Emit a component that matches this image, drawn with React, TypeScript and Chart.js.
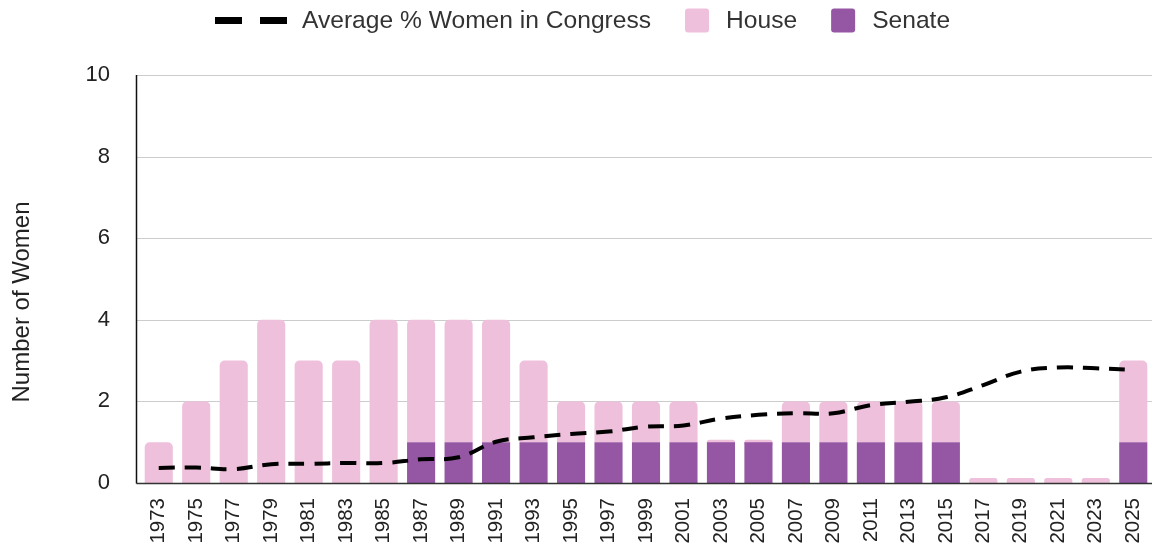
import React, { useEffect, useRef } from 'react';
import { Chart, registerables } from 'chart.js';

Chart.register(...registerables);

const years = ['1973', '1975', '1977', '1979', '1981', '1983', '1985', '1987', '1989', '1991', '1993', '1995', '1997', '1999', '2001', '2003', '2005', '2007', '2009', '2011', '2013', '2015', '2017', '2019', '2021', '2023', '2025'];
const senate = [0, 0, 0, 0, 0, 0, 0, 1, 1, 1, 1, 1, 1, 1, 1, 1, 1, 1, 1, 1, 1, 1, 0, 0, 0, 0, 1];
const house = [1, 2, 3, 4, 3, 3, 4, 3, 3, 3, 2, 1, 1, 1, 1, 0, 0, 1, 1, 1, 1, 1, 0, 0, 0, 0, 2];
const avgPctWomen = [0.37, 0.38, 0.34, 0.46, 0.47, 0.49, 0.49, 0.58, 0.63, 1.01, 1.12, 1.2, 1.26, 1.38, 1.41, 1.58, 1.67, 1.71, 1.71, 1.91, 1.99, 2.1, 2.4, 2.73, 2.83, 2.81, 2.77];
const yTickValues = [0, 2, 4, 6, 8, 10];

const legendLabels = ['Average % Women in Congress', 'House', 'Senate'];
const yAxisTitle = 'Number of Women';

const HOUSE_COLOR = '#EFC0DB';
const SENATE_COLOR = '#9556A4';
const FONT = '"Liberation Sans", Arial, sans-serif';

const framePlugin = {
  id: 'frame',
  beforeDatasetsDraw(chart: any) {
    const { ctx, chartArea } = chart;
    const y = chart.scales.y;
    const axisX = chartArea.left - 4;
    ctx.save();
    ctx.strokeStyle = '#cccccc';
    ctx.lineWidth = 1;
    yTickValues.forEach((v) => {
      if (v === 0) return;
      const py = Math.round(y.getPixelForValue(v)) + 0.5;
      ctx.beginPath();
      ctx.moveTo(axisX, py);
      ctx.lineTo(chart.width, py);
      ctx.stroke();
    });
    ctx.restore();
  },
  afterDatasetsDraw(chart: any) {
    const { ctx, chartArea } = chart;
    const axisX = Math.round(chartArea.left - 4) + 0.5;
    const by = Math.round(chartArea.bottom) + 0.5;
    ctx.save();
    ctx.lineWidth = 1.5;
    ctx.strokeStyle = '#333333';
    ctx.beginPath();
    ctx.moveTo(axisX, by);
    ctx.lineTo(chart.width, by);
    ctx.stroke();
    ctx.strokeStyle = '#111111';
    ctx.beginPath();
    ctx.moveTo(axisX, Math.round(chartArea.top));
    ctx.lineTo(axisX, by);
    ctx.stroke();
    ctx.restore();
  },
  afterDraw(chart: any) {
    const { ctx } = chart;
    ctx.save();
    // y-axis title
    ctx.save();
    ctx.translate(22, 302);
    ctx.rotate(-Math.PI / 2);
    ctx.font = `24px ${FONT}`;
    ctx.fillStyle = '#222222';
    ctx.textAlign = 'center';
    ctx.textBaseline = 'middle';
    ctx.fillText(yAxisTitle, 0, 0);
    ctx.restore();

    // legend
    ctx.font = `24.6px ${FONT}`;
    ctx.textBaseline = 'middle';
    ctx.textAlign = 'left';
    const cy = 20.5;
    ctx.fillStyle = '#000000';
    ctx.fillRect(215, cy - 3.5, 27, 7);
    ctx.fillRect(260, cy - 3.5, 27, 7);
    let x = 302;
    ctx.fillStyle = '#333333';
    ctx.fillText(legendLabels[0], x, cy + 0.5);
    x += ctx.measureText(legendLabels[0]).width + 34;
    const box = (color: string, bx: number) => {
      ctx.fillStyle = color;
      ctx.beginPath();
      (ctx as any).roundRect(bx, cy - 12, 24, 24, 3);
      ctx.fill();
    };
    box(HOUSE_COLOR, x);
    x += 24 + 17;
    ctx.fillStyle = '#333333';
    ctx.fillText(legendLabels[1], x, cy + 0.5);
    x += ctx.measureText(legendLabels[1]).width + 34;
    box(SENATE_COLOR, x);
    x += 24 + 17;
    ctx.fillStyle = '#333333';
    ctx.fillText(legendLabels[2], x, cy + 0.5);
    ctx.restore();
  },
};

export default function App() {
  const canvasRef = useRef<HTMLCanvasElement | null>(null);

  useEffect(() => {
    document.body.style.margin = '0';
    const canvas = canvasRef.current;
    if (!canvas) return;
    const chart = new Chart(canvas, {
      type: 'bar',
      data: {
        labels: years,
        datasets: [
          {
            type: 'bar',
            label: 'Senate',
            data: senate,
            backgroundColor: SENATE_COLOR,
            stack: 'congress',
            order: 1,
            borderRadius: 0,
            barPercentage: 0.75,
            categoryPercentage: 1,
          },
          {
            type: 'bar',
            label: 'House',
            data: house,
            backgroundColor: HOUSE_COLOR,
            stack: 'congress',
            order: 1,
            borderRadius: { topLeft: 5, topRight: 5, bottomLeft: 0, bottomRight: 0 },
            borderSkipped: 'start',
            minBarLength: 5,
            barPercentage: 0.75,
            categoryPercentage: 1,
          },
          {
            type: 'line',
            label: 'Average % Women in Congress',
            data: avgPctWomen,
            borderColor: '#000000',
            borderWidth: 4,
            borderDash: [16, 10],
            borderCapStyle: 'butt',
            pointRadius: 0,
            pointHoverRadius: 0,
            tension: 0.4,
            fill: false,
            order: 0,
          } as any,
        ],
      },
      options: {
        responsive: false,
        animation: false,
        devicePixelRatio: 1,
        layout: { padding: { top: 75, right: -2, bottom: 0, left: 0 } },
        plugins: {
          legend: { display: false },
          tooltip: { enabled: false },
        },
        scales: {
          x: {
            stacked: true,
            grid: { display: false, drawTicks: false },
            border: { display: false },
            ticks: {
              autoSkip: false,
              maxRotation: 90,
              minRotation: 90,
              padding: 15,
              color: '#222222',
              font: { family: FONT, size: 20.5 },
            },
            afterFit: (scale: any) => {
              scale.height = 68;
              scale.paddingLeft = 0;
              scale.paddingRight = 0;
            },
          },
          y: {
            stacked: true,
            min: 0,
            max: 10,
            afterBuildTicks: (scale: any) => {
              scale.ticks = yTickValues.map((v) => ({ value: v }));
            },
            grid: { display: false, drawTicks: false },
            border: { display: false },
            ticks: {
              padding: 30,
              color: '#222222',
              font: { family: FONT, size: 22 },
            },
            title: { display: false },
            afterFit: (scale: any) => {
              scale.width = 140;
              scale.paddingTop = 0;
              scale.paddingBottom = 0;
            },
          },
        },
      },
      plugins: [framePlugin],
    });
    return () => chart.destroy();
  }, []);

  return (
    <div style={{ position: 'absolute', left: 0, top: 0, width: 1152, height: 551 }}>
      <canvas ref={canvasRef} width={1152} height={551} style={{ width: 1152, height: 551, display: 'block' }} />
    </div>
  );
}
